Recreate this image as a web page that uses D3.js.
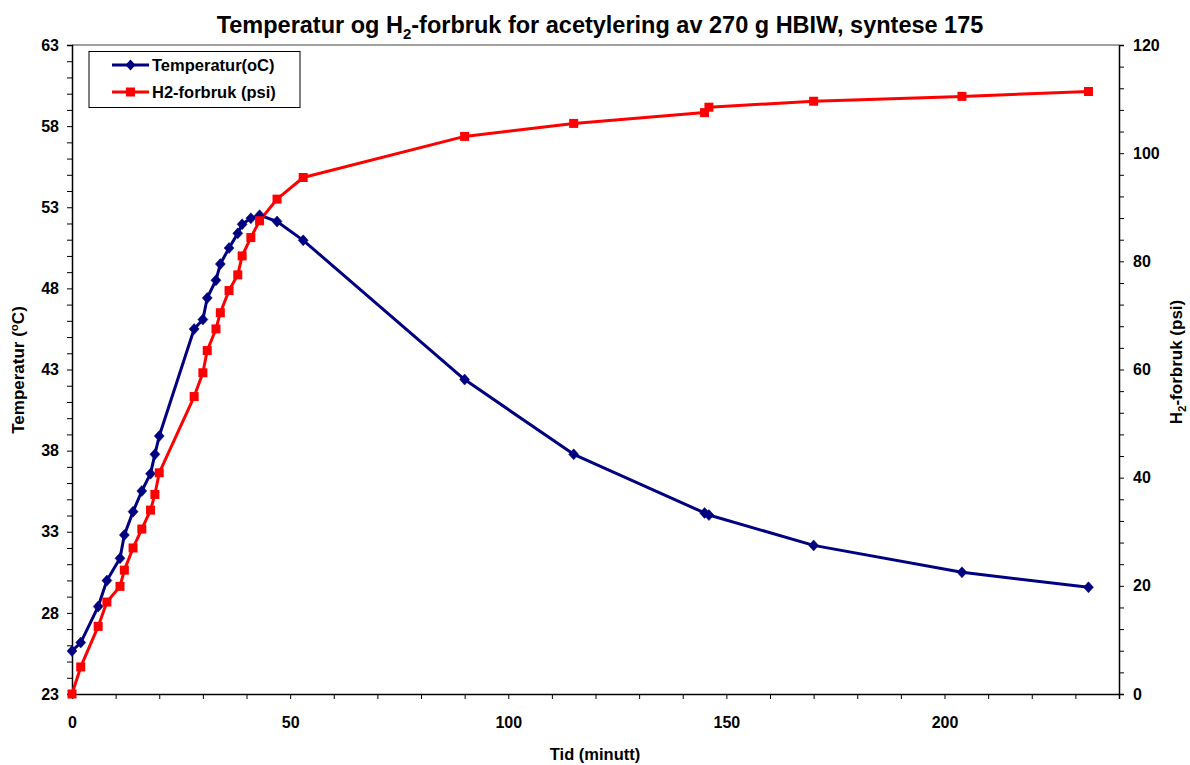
<!DOCTYPE html>
<html>
<head>
<meta charset="utf-8">
<script src="https://cdn.jsdelivr.net/npm/d3@7"></script>
<style>
  body { margin: 0; background: #fff; }
  svg { display: block; font-family: "Liberation Sans", Arial, sans-serif; }
</style>
</head>
<body>
<svg id="chart" width="1190" height="765"></svg>
<script>
// ---- data ----
const time = [0, 2, 6, 8, 11, 12, 14, 16, 18, 19, 20, 28, 30, 31, 33, 34, 36, 38, 39, 41, 43, 47, 53, 90, 115, 145, 146, 170, 204, 233];
const temperature = [25.65, 26.17, 28.39, 29.99, 31.36, 32.8, 34.24, 35.51, 36.58, 37.77, 38.9, 45.5, 46.08, 47.41, 48.5, 49.5, 50.49, 51.39, 51.95, 52.32, 52.51, 52.12, 50.96, 42.38, 37.77, 34.16, 34.03, 32.16, 30.5, 29.58];
const h2 = [0, 5.0, 12.5, 17.0, 19.9, 22.9, 27.0, 30.5, 34.0, 36.9, 40.9, 55.0, 59.4, 63.5, 67.5, 70.5, 74.6, 77.5, 81.0, 84.4, 87.5, 91.5, 95.5, 103.1, 105.5, 107.5, 108.5, 109.6, 110.5, 111.4];
const xTicks = [0, 50, 100, 150, 200];
const yLeftTicks = [23, 28, 33, 38, 43, 48, 53, 58, 63];
const yRightTicks = [0, 20, 40, 60, 80, 100, 120];
const seriesNames = ["Temperatur(oC)", "H2-forbruk (psi)"];

// ---- layout ----
const svg = d3.select("#chart");
const L = 72, R = 1119, T = 45, B = 694;
const x = d3.scaleLinear().domain([0, 240]).range([L, R]);
const yL = d3.scaleLinear().domain([23, 63]).range([B, T]);
const yR = d3.scaleLinear().domain([0, 120]).range([B, T]);
const blue = "#000080", red = "#ff0000";
const tickFont = "16px";

// plot area top border (gray)
svg.append("line").attr("x1", L).attr("x2", R).attr("y1", T).attr("y2", T)
  .attr("stroke", "#808080").attr("stroke-width", 1.5);

// axes
const xAxis = d3.axisBottom(x).tickValues(d3.range(0, 241, 10)).tickSize(5)
  .tickFormat(d => xTicks.includes(d) ? d : "");
const gx = svg.append("g").attr("transform", `translate(0,${B})`).call(xAxis);
gx.selectAll("text").attr("dy", "1.6em");

const yLAxis = d3.axisLeft(yL).tickValues(d3.range(23, 64, 1)).tickSize(5)
  .tickFormat(d => yLeftTicks.includes(d) ? d : "");
const gyl = svg.append("g").attr("transform", `translate(${L},0)`).call(yLAxis);
gyl.selectAll("text").attr("x", -13);

const yRAxis = d3.axisRight(yR).tickValues(d3.range(0, 121, 4)).tickSize(5)
  .tickFormat(d => yRightTicks.includes(d) ? d : "");
const gyr = svg.append("g").attr("transform", `translate(${R},0)`).call(yRAxis);
gyr.selectAll("text").attr("x", 14);

[gx, gyl, gyr].forEach(g => {
  g.select(".domain").attr("stroke", "#000").attr("stroke-width", 1.5);
  g.selectAll(".tick line").attr("stroke", "#000").attr("stroke-width", 1);
  g.selectAll("text").attr("font-size", tickFont).attr("font-weight", "bold")
    .attr("fill", "#000").attr("font-family", "Liberation Sans, Arial, sans-serif");
});

// series
const tempData = time.map((t, i) => [t, temperature[i]]);
const h2Data = time.map((t, i) => [t, h2[i]]);

svg.append("path").datum(tempData)
  .attr("d", d3.line().x(d => x(d[0])).y(d => yL(d[1])))
  .attr("fill", "none").attr("stroke", blue).attr("stroke-width", 3).attr("stroke-linejoin", "round");
svg.append("path").datum(h2Data)
  .attr("d", d3.line().x(d => x(d[0])).y(d => yR(d[1])))
  .attr("fill", "none").attr("stroke", red).attr("stroke-width", 3).attr("stroke-linejoin", "round");

const diamond = "M0,-5.5L5,0L0,5.5L-5,0Z";
svg.append("g").selectAll("path").data(tempData).join("path")
  .attr("d", diamond).attr("fill", blue).attr("stroke", blue).attr("stroke-width", 0.5)
  .attr("transform", d => `translate(${x(d[0])},${yL(d[1])})`);
svg.append("g").selectAll("rect").data(h2Data).join("rect")
  .attr("x", d => x(d[0]) - 4.5).attr("y", d => yR(d[1]) - 4.5)
  .attr("width", 9).attr("height", 9).attr("fill", red);

// title
const title = svg.append("text").attr("x", 600).attr("y", 33).attr("text-anchor", "middle")
  .attr("font-size", "23.5px").attr("font-weight", "bold");
title.append("tspan").text("Temperatur og H");
title.append("tspan").attr("font-size", "15px").attr("dy", 6).text("2");
title.append("tspan").attr("dy", -6).text("-forbruk for acetylering av 270 g HBIW, syntese 175");

// axis titles
svg.append("text").attr("x", 595).attr("y", 760).attr("text-anchor", "middle")
  .attr("font-size", "16.5px").attr("font-weight", "bold").text("Tid (minutt)");

const ylt = svg.append("text").attr("transform", "translate(24,370) rotate(-90)")
  .attr("text-anchor", "middle").attr("font-size", "17px").attr("font-weight", "bold");
ylt.append("tspan").text("Temperatur (");
ylt.append("tspan").attr("font-size", "11.5px").attr("dy", -6).text("o");
ylt.append("tspan").attr("dy", 6).text("C)");

const yrt = svg.append("text").attr("transform", "translate(1182,362) rotate(-90)")
  .attr("text-anchor", "middle").attr("font-size", "17px").attr("font-weight", "bold");
yrt.append("tspan").text("H");
yrt.append("tspan").attr("font-size", "11.5px").attr("dy", 4).text("2");
yrt.append("tspan").attr("dy", -4).text("-forbruk (psi)");

// legend
const lg = svg.append("g");
lg.append("rect").attr("x", 89).attr("y", 51.5).attr("width", 211).attr("height", 56)
  .attr("fill", "#fff").attr("stroke", "#000").attr("stroke-width", 1);
const rows = [{name: seriesNames[0], color: blue, y: 65, m: "d"}, {name: seriesNames[1], color: red, y: 92, m: "s"}];
rows.forEach(r => {
  lg.append("line").attr("x1", 112).attr("x2", 149).attr("y1", r.y).attr("y2", r.y)
    .attr("stroke", r.color).attr("stroke-width", 3);
  if (r.m === "d") {
    lg.append("path").attr("d", diamond).attr("fill", r.color).attr("transform", `translate(130.5,${r.y})`);
  } else {
    lg.append("rect").attr("x", 126).attr("y", r.y - 4.5).attr("width", 9).attr("height", 9).attr("fill", r.color);
  }
  lg.append("text").attr("x", 152).attr("y", r.y + 6).attr("font-size", "16.5px")
    .attr("font-weight", "bold").text(r.name);
});
</script>
</body>
</html>
